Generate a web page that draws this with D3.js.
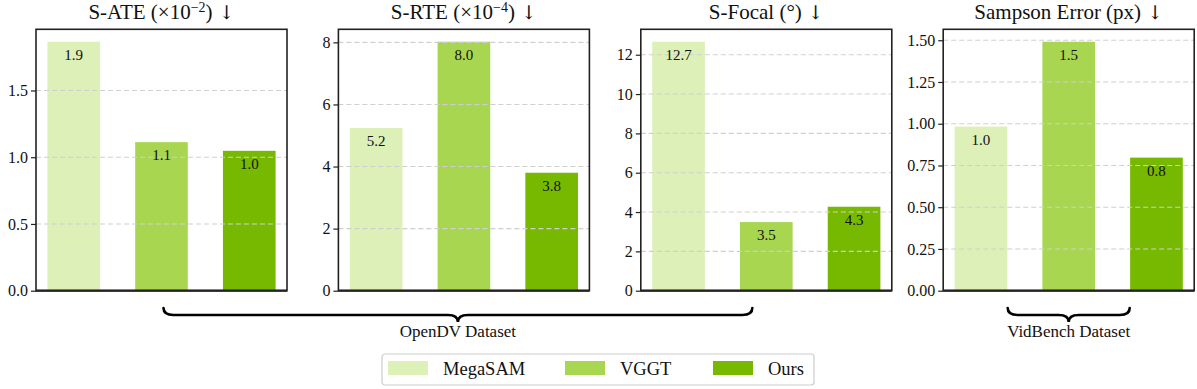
<!DOCTYPE html>
<html>
<head>
<meta charset="utf-8">
<script src="https://cdn.jsdelivr.net/npm/d3@7"></script>
<style>
  body { margin: 0; background: #fff; }
  text { font-family: "Liberation Serif", "Times New Roman", serif; fill: #111; }
</style>
</head>
<body>
<svg id="svg"></svg>
<script>
  const methods = ["MegaSAM", "VGGT", "Ours"];
  const colors = ["#dcf0b8", "#a9d651", "#76b900"];

  const ateValues = [1.865, 1.113, 1.048];
  const rteValues = [5.24, 8.02, 3.80];
  const focalValues = [12.66, 3.49, 4.27];
  const sampsonValues = [0.983, 1.491, 0.797];

  const ateTicks = [0, 0.5, 1.0, 1.5];
  const rteTicks = [0, 2, 4, 6, 8];
  const focalTicks = [0, 2, 4, 6, 8, 10, 12];
  const sampsonTicks = [0, 0.25, 0.5, 0.75, 1.0, 1.25, 1.5];

  const panels = [
    {title: "S-ATE (×10", sup: "−2", rest: ")", values: ateValues, ticks: ateTicks, fmt: ".1f"},
    {title: "S-RTE (×10", sup: "−4", rest: ")", values: rteValues, ticks: rteTicks, fmt: "d"},
    {title: "S-Focal (°)", sup: "", rest: "", values: focalValues, ticks: focalTicks, fmt: "d"},
    {title: "Sampson Error (px)", sup: "", rest: "", values: sampsonValues, ticks: sampsonTicks, fmt: ".2f"}
  ];

  const datasets = [
    {name: "OpenDV Dataset", from: 0, to: 2},
    {name: "VidBench Dataset", from: 3, to: 3}
  ];

  const totalWidth = 1197;
  const totalHeight = 389;
  const marginLeft = 36;
  const marginTop = 29.3;
  const panelWidth = 251;
  const panelStep = 302.4;
  const height = 261.4;

  const svg = d3.select("#svg")
      .attr("width", totalWidth)
      .attr("height", totalHeight);

  const xScale = d3.scaleLinear()
      .domain([-0.43, 2.43])
      .range([0, panelWidth]);
  const barWidth = xScale(0.6) - xScale(0);

  panels.forEach(function(p, i) {
    const chart = svg.append("g")
        .attr("transform", `translate(${marginLeft + i * panelStep}, ${marginTop})`);

    const yScale = d3.scaleLinear()
        .domain([0, d3.max(p.values) * 1.05])
        .range([height, 0]);

    // bars
    chart.selectAll(".bar")
        .data(p.values)
        .enter().append("rect")
        .attr("x", (d, j) => xScale(j) - barWidth / 2)
        .attr("y", d => yScale(d))
        .attr("width", barWidth)
        .attr("height", d => height - yScale(d))
        .attr("fill", (d, j) => colors[j]);

    // grid on top of bars
    chart.append("g")
        .selectAll("line")
        .data(p.ticks)
        .enter().append("line")
        .attr("x1", 0)
        .attr("x2", panelWidth)
        .attr("y1", d => yScale(d))
        .attr("y2", d => yScale(d))
        .attr("stroke", "#cfcfcf")
        .attr("stroke-width", 1.1)
        .attr("stroke-dasharray", "5,3");

    // value labels
    chart.selectAll(".val")
        .data(p.values)
        .enter().append("text")
        .attr("x", (d, j) => xScale(j))
        .attr("y", d => yScale(d) + 18)
        .attr("text-anchor", "middle")
        .style("font-size", "15px")
        .text(d => d3.format(".1f")(d));

    // y axis
    const axis = chart.append("g")
        .call(d3.axisLeft(yScale).tickValues(p.ticks).tickFormat(d3.format(p.fmt)).tickSize(5).tickPadding(3));
    axis.select(".domain").remove();
    axis.selectAll(".tick line").attr("stroke", "#222").attr("stroke-width", 1.2);
    axis.selectAll(".tick text")
        .style("font-family", '"Liberation Serif", serif')
        .style("font-size", "16px")
        .attr("fill", "#111");

    // frame
    chart.append("rect")
        .attr("x", 0)
        .attr("y", 0)
        .attr("width", panelWidth)
        .attr("height", height)
        .attr("fill", "none")
        .attr("stroke", "#222")
        .attr("stroke-width", 1.6);
    chart.append("line")
        .attr("x1", 0).attr("x2", panelWidth)
        .attr("y1", height).attr("y2", height)
        .attr("stroke", "#222")
        .attr("stroke-width", 2.2);

    // title
    const title = chart.append("text")
        .attr("x", panelWidth / 2)
        .attr("y", -10)
        .attr("text-anchor", "middle")
        .style("font-size", "21px");
    title.append("tspan").text(p.title);
    if (p.sup) {
      title.append("tspan").attr("dy", -7).style("font-size", "14px").text(p.sup);
      title.append("tspan").attr("dy", 7).text(p.rest);
    }
    title.append("tspan")
        .style("font-family", '"DejaVu Serif", serif')
        .style("font-size", "19px")
        .text(" ↓");
  });

  // dataset braces
  function bracePath(x1, x2, y, h) {
    const mid = (x1 + x2) / 2;
    const q = 10;
    return `M${x1},${y} Q${x1},${y + h / 2} ${x1 + q},${y + h / 2}` +
      ` L${mid - q},${y + h / 2} Q${mid},${y + h / 2} ${mid},${y + h}` +
      ` Q${mid},${y + h / 2} ${mid + q},${y + h / 2}` +
      ` L${x2 - q},${y + h / 2} Q${x2},${y + h / 2} ${x2},${y}`;
  }

  datasets.forEach(function(ds) {
    const c1 = marginLeft + ds.from * panelStep + xScale(1);
    const c2 = marginLeft + ds.to * panelStep + xScale(1);
    let x1, x2;
    if (ds.from === ds.to) {
      x1 = c1 - 61; x2 = c1 + 61;
    } else {
      x1 = c1 + 2; x2 = c2 - 14;
    }
    svg.append("path")
        .attr("d", bracePath(x1, x2, 308, 14))
        .attr("fill", "none")
        .attr("stroke", "#000")
        .attr("stroke-width", 2.6)
        .attr("stroke-linecap", "round");
    svg.append("text")
        .attr("x", (x1 + x2) / 2)
        .attr("y", 337)
        .attr("text-anchor", "middle")
        .style("font-size", "17px")
        .text(ds.name);
  });

  // legend
  const legend = svg.append("g").attr("transform", "translate(382, 354)");
  legend.append("rect")
      .attr("width", 432)
      .attr("height", 31)
      .attr("rx", 3)
      .attr("fill", "#fff")
      .attr("stroke", "#cccccc")
      .attr("stroke-width", 1.2);
  const itemX = [6, 183, 331];
  methods.forEach(function(m, i) {
    legend.append("rect")
        .attr("x", itemX[i])
        .attr("y", 7)
        .attr("width", 40)
        .attr("height", 14)
        .attr("fill", colors[i]);
    legend.append("text")
        .attr("x", itemX[i] + 55)
        .attr("y", 21)
        .style("font-size", "18.5px")
        .text(m);
  });
</script>
</body>
</html>
